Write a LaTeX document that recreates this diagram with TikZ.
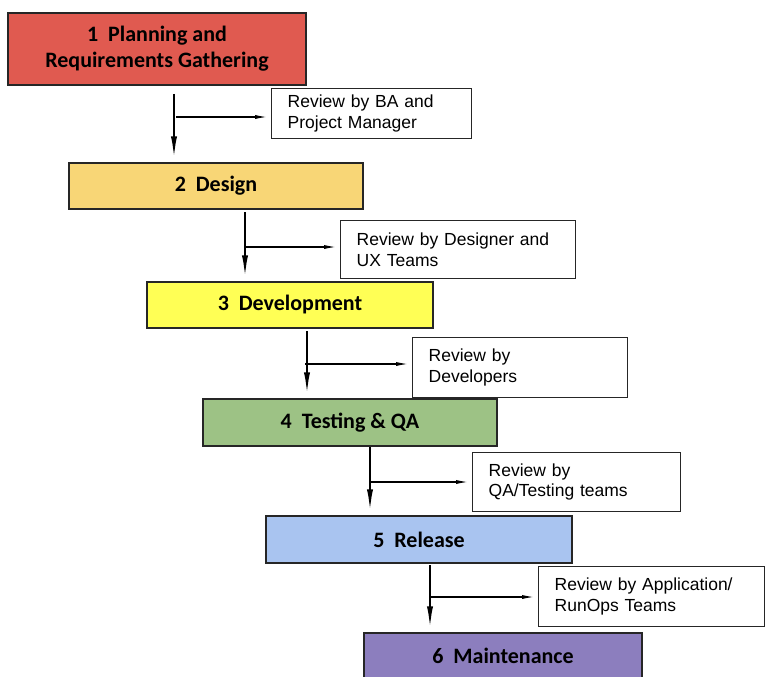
\documentclass[tikz,border=0pt]{standalone}
\usepackage{fontspec}
\setmainfont{Liberation Sans}
\newfontfamily\boxfont{Carlito}
\usetikzlibrary{arrows.meta,calc}
\definecolor{cA}{HTML}{E05A50}
\definecolor{cB}{HTML}{F8D676}
\definecolor{cC}{HTML}{FFFF55}
\definecolor{cD}{HTML}{9DC285}
\definecolor{cE}{HTML}{A9C4F0}
\definecolor{cF}{HTML}{8C7EBE}
\begin{document}
\begin{tikzpicture}[x=1pt,y=-1pt,
 stage/.style={draw=black!85, line width=1.3pt, font=\boxfont\bfseries\fontsize{22}{26}\selectfont, align=center, inner sep=0pt},
 review/.style={draw=black!85, line width=1.3pt, fill=white, font=\fontsize{17.5}{20.5}\selectfont, align=left, anchor=north west, inner xsep=16pt, inner ysep=0pt},
 flow/.style={line width=2.6pt, -{Latex[length=26pt,width=6pt]}},
 branch/.style={line width=1.8pt, -{Latex[length=16pt,width=4pt]}}
]
\useasboundingbox (0,0) rectangle (766,677);
\fill[white] (0,0) rectangle (766,677);
% stages
\node[stage, fill=cA, minimum width=298pt, minimum height=72pt] (s1) at (157,49) {1~~Planning and\\Requirements Gathering};
\node[stage, fill=cB, minimum width=294pt, minimum height=46pt] (s2) at (216,186) {2~~Design};
\node[stage, fill=cC, minimum width=286pt, minimum height=46pt] (s3) at (290,305) {3~~Development};
\node[stage, fill=cD, minimum width=294pt, minimum height=47pt] (s4) at (350,422.5) {4~~Testing \& QA};
\node[stage, fill=cE, minimum width=306pt, minimum height=47pt] (s5) at (419,539.5) {5~~Release};
\node[stage, fill=cF, minimum width=278pt, minimum height=46pt] (s6) at (503,656) {6~~Maintenance};
% reviews
\node[review, text width=168pt, minimum height=50pt] (r1) at (271,88) {Review by BA and\\Project Manager};
\node[review, text width=203pt, minimum height=58pt] (r2) at (340,220) {Review by Designer and\\UX Teams};
\node[review, text width=183pt, minimum height=60pt] (r3) at (412,337) {Review by\\Developers};
\node[review, text width=176pt, minimum height=59pt] (r4) at (472,452) {Review by\\QA/Testing teams};
\node[review, text width=194pt, minimum height=60pt] (r5) at (538,566) {Review by Application/\\RunOps Teams};
% flow arrows
\coordinate (a1) at (174,94);
\coordinate (a2) at (245,212);
\coordinate (a3) at (307,331);
\coordinate (a4) at (370,447);
\coordinate (a5) at (430,565);
\draw[flow] (a1) -- (a1 |- s2.north);
\draw[flow] (a2) -- (a2 |- s3.north);
\draw[flow] (a3) -- (a3 |- s4.north);
\draw[flow] (a4) -- (a4 |- s5.north);
\draw[flow] (a5) -- (a5 |- s6.north);
% branches
\coordinate (j1) at (176,117);
\coordinate (j2) at (246,247);
\coordinate (j3) at (305,364);
\coordinate (j4) at (371,482);
\coordinate (j5) at (431,597);
\draw[branch] (j1) -- (j1 -| r1.west);
\draw[branch] (j2) -- (j2 -| r2.west);
\draw[branch] (j3) -- (j3 -| r3.west);
\draw[branch] (j4) -- (j4 -| r4.west);
\draw[branch] (j5) -- (j5 -| r5.west);
\end{tikzpicture}
\end{document}
